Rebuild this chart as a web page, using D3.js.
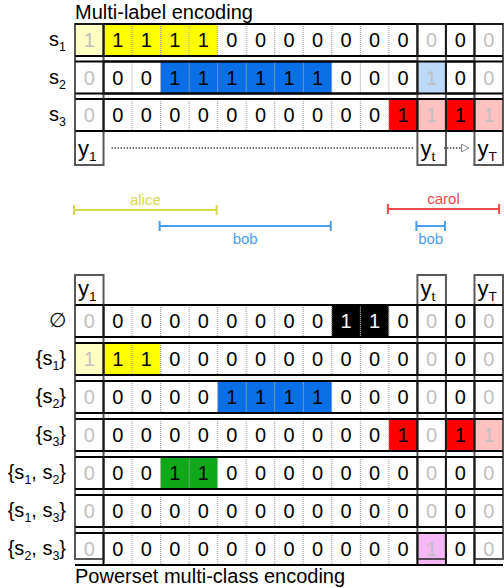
<!DOCTYPE html>
<html><head><meta charset="utf-8">
<script src="https://cdn.jsdelivr.net/npm/d3@7"></script>
<style>body{margin:0;background:#fff}text{font-family:"Liberation Sans",Arial,sans-serif}</style>
</head><body><svg id="c" width="504" height="588"></svg>
<script>
const nCols = 15;
const fadedCols = [0, 12, 14];
const topLabels = [["s","1"], ["s","2"], ["s","3"]];
const topValues = [
  [1,1,1,1,1,0,0,0,0,0,0,0,0,0,0],
  [0,0,0,1,1,1,1,1,1,0,0,0,1,0,0],
  [0,0,0,0,0,0,0,0,0,0,0,1,1,1,1]
];
const topColors = ["#ffff00", "#0a6fe6", "#ff0000"];
const topFaded = ["#ffffc4", "#bcdaf8", "#ffc0c0"];
const botLabels = [["∅"], ["{s","1","}"], ["{s","2","}"], ["{s","3","}"], ["{s","1",", s","2","}"], ["{s","1",", s","3","}"], ["{s","2",", s","3","}"]];
const botValues = [
  [0,0,0,0,0,0,0,0,0,1,1,0,0,0,0],
  [1,1,1,0,0,0,0,0,0,0,0,0,0,0,0],
  [0,0,0,0,0,1,1,1,1,0,0,0,0,0,0],
  [0,0,0,0,0,0,0,0,0,0,0,1,0,1,1],
  [0,0,0,1,1,0,0,0,0,0,0,0,0,0,0],
  [0,0,0,0,0,0,0,0,0,0,0,0,0,0,0],
  [0,0,0,0,0,0,0,0,0,0,0,0,1,0,0]
];
const botColors = ["#000000", "#ffff00", "#0a6fe6", "#ff0000", "#10a818", "#888888", "#e040e0"];
const botFaded = ["#d0d0d0", "#ffffc4", "#bcdaf8", "#ffc0c0", "#b8e8b8", "#dddddd", "#f4b8f4"];
const frameLabels = [[0, "1"], [12, "t"], [14, "T"]];
const segments = [
  {name: "alice", x0: 0, x1: 5, y: 210, color: "#d8d850", above: true},
  {name: "bob", x0: 3, x1: 9, y: 226, color: "#4a9ef0", above: false},
  {name: "carol", x0: 11, x1: 14.9, y: 209, color: "#f04848", above: true},
  {name: "bob", x0: 12, x1: 13, y: 226, color: "#4a9ef0", above: false}
];

const svg = d3.select("#c");
const x = d3.scaleLinear().domain([0, nCols]).range([75, 503]);
const cw = x(1) - x(0);

function label(sel, parts, xx, yy, anchor, size) {
  size = size || 20;
  const t = sel.append("text").attr("x", xx).attr("y", yy).attr("text-anchor", anchor)
    .attr("font-size", size);
  parts.forEach((p, i) => {
    const sub = i % 2 === 1;
    t.append("tspan").attr("font-size", sub ? size * 0.62 : size).attr("dy", sub ? 5 : (i > 0 ? -5 : 0)).text(p);
  });
  return t;
}

function drawGrid(values, colors, faded, labels, y0, step, h, frameTop, frameBot, labelTop) {
  const g = svg.append("g");
  values.forEach((row, r) => {
    const yy = y0 + r * step;
    row.forEach((v, c) => {
      const f = fadedCols.includes(c);
      g.append("rect").attr("x", x(c)).attr("y", yy).attr("width", cw).attr("height", h)
        .attr("fill", v ? (f ? faded[r] : colors[r]) : "#fff");
      g.append("text").attr("x", x(c) + cw / 2).attr("y", yy + h / 2 + 7)
        .attr("text-anchor", "middle").attr("font-size", 20)
        .attr("fill", f ? "#c0c0c0" : (v && colors[r] === "#000000" ? "#fff" : "#000"))
        .text(v);
      if (c > 0 && !fadedCols.includes(c) && !fadedCols.includes(c - 1))
        g.append("line").attr("x1", x(c)).attr("x2", x(c)).attr("y1", yy).attr("y2", yy + h)
          .attr("stroke", "#999").attr("stroke-dasharray", "1,1");
    });
    [[1, 12], [13, 14]].forEach(([a, b]) =>
      g.append("rect").attr("x", x(a)).attr("y", yy).attr("width", x(b) - x(a)).attr("height", h)
        .attr("fill", "none").attr("stroke", "#000").attr("stroke-width", 2));
    g.append("line").attr("x1", x(0)).attr("x2", x(15)).attr("y1", yy).attr("y2", yy)
      .attr("stroke", "#000").attr("stroke-width", 2);
    g.append("line").attr("x1", x(0)).attr("x2", x(15)).attr("y1", yy + h).attr("y2", yy + h)
      .attr("stroke", "#000").attr("stroke-width", 2);
    label(g, labels[r], 66, yy + h / 2 + 6, "end", 20);
  });
  frameLabels.forEach(([c, sub]) => {
    g.append("rect").attr("x", x(c)).attr("y", frameTop).attr("width", cw).attr("height", frameBot - frameTop)
      .attr("fill", "none").attr("stroke", "#222").attr("stroke-width", 2).attr("stroke-opacity", 0.75);
    label(g, ["y", sub], x(c) + 3, labelTop, "start", 22);
  });
}

label(svg, ["Multi-label encoding"], 75, 19, "start", 20);
drawGrid(topValues, topColors, topFaded, topLabels, 24, 37.5, 32, 24, 165, 156);
label(svg, ["Powerset multi-class encoding"], 75, 583, "start", 20);
drawGrid(botValues, botColors, botFaded, botLabels, 305, 38, 32, 275, 559, 296);

// time arrow
svg.append("defs").append("marker").attr("id", "arr").attr("viewBox", "0 0 10 10")
  .attr("refX", 9).attr("refY", 5).attr("markerWidth", 6).attr("markerHeight", 6).attr("orient", "auto")
  .append("path").attr("d", "M0,0L10,5L0,10z").attr("fill", "#fff").attr("stroke", "#666");
[[x(1) + 8, x(12) - 4], [x(13) - 2, x(14) - 6]].forEach(([a, b], i) =>
  svg.append("line").attr("x1", a).attr("x2", b).attr("y1", 148).attr("y2", 148)
    .attr("stroke", "#444").attr("stroke-dasharray", "1.5,1.5").attr("stroke-width", 1.3)
    .attr("marker-end", i ? "url(#arr)" : null));

segments.forEach(s => {
  const a = x(s.x0) - 1, b = x(s.x1) - 1;
  const g = svg.append("g").attr("stroke", s.color).attr("stroke-width", 2);
  g.append("line").attr("x1", a).attr("x2", b).attr("y1", s.y).attr("y2", s.y);
  [a, b].forEach(p => g.append("line").attr("x1", p).attr("x2", p).attr("y1", s.y - 5).attr("y2", s.y + 5));
  svg.append("text").attr("x", (a + b) / 2).attr("y", s.above ? s.y - 5 : s.y + 18)
    .attr("text-anchor", "middle").attr("font-size", 15).attr("fill", s.color).text(s.name);
});
</script></body></html>
